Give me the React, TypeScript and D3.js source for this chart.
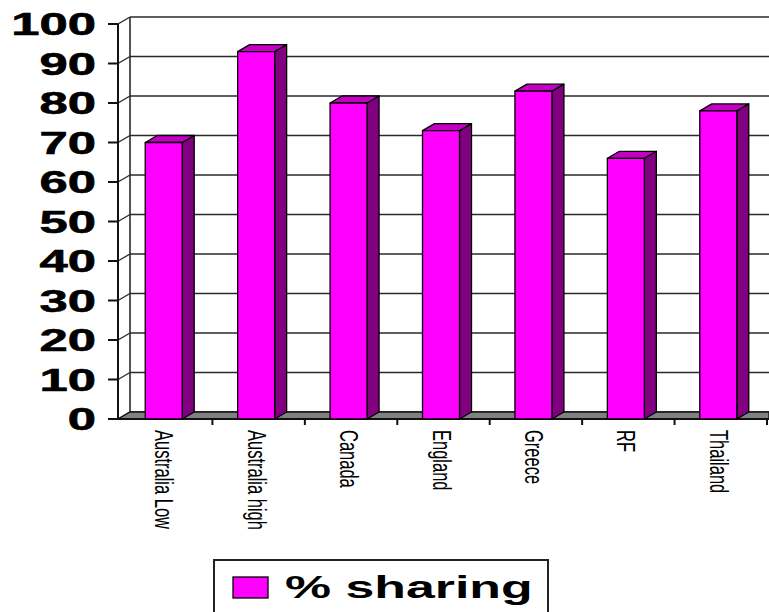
import React from "react";
import * as d3 from "d3";

const categories = ["Australia Low", "Australia high", "Canada", "England", "Greece", "RF", "Thailand"];
const sharing = [70, 93, 80, 73, 83, 66, 78];
const yTicks = [0, 10, 20, 30, 40, 50, 60, 70, 80, 90, 100];
const seriesName = "% sharing";

export default function App() {
  const W = 769, H = 612;
  const DX = 12, DY = 7;
  const axisX = 118;
  const y = d3.scaleLinear().domain([0, 100]).range([419, 24]);
  const x = d3.scaleBand<string>().domain(categories).range([120, 767]).padding(0);
  const bw = x.bandwidth();
  const barW = 37;
  const wallRight = 769;
  const lineCol = "#2a2a2a";

  const boundaries = categories.map((c) => (x(c) as number) + bw);

  return (
    <svg width={W} height={H} style={{ position: "absolute", left: 0, top: 0, background: "#fff" }}
      fontFamily="'Liberation Sans', Arial, sans-serif">
      {/* back wall gridlines */}
      {yTicks.map((t) => (
        <line key={"g" + t} x1={axisX + DX} x2={wallRight} y1={y(t) - DY} y2={y(t) - DY}
          stroke={lineCol} strokeWidth={1.6} />
      ))}
      <line x1={axisX + DX} x2={axisX + DX} y1={y(100) - DY} y2={y(0) - DY} stroke={lineCol} strokeWidth={1.6} />
      {/* left wall diagonals */}
      {yTicks.map((t) => (
        <line key={"d" + t} x1={axisX} x2={axisX + DX} y1={y(t)} y2={y(t) - DY} stroke={lineCol} strokeWidth={1.4} />
      ))}
      {/* floor */}
      <polygon
        points={`${axisX},${y(0)} ${axisX + DX},${y(0) - DY} ${wallRight},${y(0) - DY} ${wallRight},${y(0)}`}
        fill="#808080" stroke="#111" strokeWidth={1.4} />
      {/* front axis */}
      <line x1={axisX} x2={axisX} y1={y(100)} y2={y(0) + 1} stroke="#111" strokeWidth={2} />
      <line x1={axisX} x2={wallRight} y1={y(0)} y2={y(0)} stroke="#111" strokeWidth={2} />
      {yTicks.map((t) => (
        <line key={"t" + t} x1={axisX - 10} x2={axisX} y1={y(t)} y2={y(t)} stroke="#111" strokeWidth={2} />
      ))}
      {boundaries.map((b, i) => (
        <line key={"xt" + i} x1={b} x2={b} y1={y(0)} y2={y(0) + 6} stroke="#111" strokeWidth={2} />
      ))}
      {/* bars */}
      {categories.map((c, i) => {
        const left = (x(c) as number) + bw / 2 - 21;
        const right = left + barW;
        const top = y(sharing[i]);
        const base = y(0);
        return (
          <g key={c} stroke="#000" strokeWidth={1.3} strokeLinejoin="round">
            <polygon points={`${right},${top} ${right + DX},${top - DY} ${right + DX},${base - DY} ${right},${base}`}
              fill="#800080" />
            <polygon points={`${left},${top} ${left + DX},${top - DY} ${right + DX},${top - DY} ${right},${top}`}
              fill="#C400C4" />
            <rect x={left} y={top} width={barW} height={base - top} fill="#FF00FF" />
          </g>
        );
      })}
      {/* y labels */}
      {yTicks.map((t) => (
        <text key={"yl" + t} transform={`translate(96,${y(t) + 11}) scale(1.64,1)`} textAnchor="end"
          fontSize={31} fontWeight="bold" fill="#000" stroke="#000" strokeWidth={0.6}>{t}</text>
      ))}
      {/* category labels */}
      {categories.map((c) => (
        <text key={"cl" + c}
          transform={`translate(${(x(c) as number) + bw / 2 - 11},430) rotate(90) scale(0.66,1)`}
          fontSize={25} fill="#000">{c}</text>
      ))}
      {/* legend */}
      <rect x={214} y={560} width={334} height={70} fill="#fff" stroke="#222" strokeWidth={2} />
      <rect x={233} y={577} width={35} height={21} fill="#FF00FF" stroke="#000" strokeWidth={1.3} />
      <text transform="translate(285,598) scale(1.62,1)" fontSize={32} fontWeight="bold" fill="#000">{seriesName}</text>
    </svg>
  );
}
